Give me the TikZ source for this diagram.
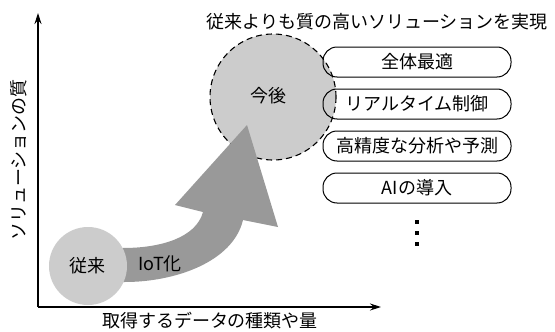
\documentclass[tikz,border=0pt]{standalone}
\usepackage{fontspec}
\setmainfont{Noto Sans CJK JP}
\usetikzlibrary{arrows.meta}
\definecolor{lightg}{HTML}{CCCCCC}
\definecolor{darkg}{HTML}{999999}
\tikzset{
  axis/.style={line width=1.2pt,-{Stealth[length=11pt,width=7pt]}},
  lbl/.style={font=\fontsize{18}{20}\selectfont,inner sep=0pt},
  pill/.style={draw,line width=1pt,rounded corners=14pt,minimum width=188pt,minimum height=30pt,inner sep=0pt,font=\fontsize{18}{20}\selectfont},
  dotsq/.style={fill=black,minimum size=3.2pt,inner sep=0pt},
}
\begin{document}
\begin{tikzpicture}[x=1pt,y=-1pt]
\useasboundingbox (0,0) rectangle (555,332);
% axes
\coordinate (o) at (38,307);
\coordinate (ytop) at (38,13);
\coordinate (xend) at (381,307);
\draw[axis] (o) -- (ytop);
\draw[axis] (o) -- (xend);
\node[lbl,rotate=90] (ylab) at (19,160) {ソリューションの質};
\node[lbl] (xlab) at (210,321) {取得するデータの種類や量};
\node[lbl] (title) at (377,22) {従来よりも質の高いソリューションを実現};
% big future circle
\node[circle,fill=lightg,draw,dashed,dash pattern=on 6pt off 4pt,line width=1.1pt,minimum size=126pt,inner sep=0pt] (future) at (273,97) {};
\node[lbl] (futtxt) at (268,96) {今後};
% arrow
\fill[darkg] (110,282) -- (125,282) .. controls (175,282) and (233,262) .. (243,220) -- (278,227) -- (247,125) -- (175,205) -- (203,212) .. controls (196,238) and (160,248) .. (123,248) -- (110,248) -- cycle;
% small circle
\node[circle,fill=lightg,minimum size=78pt,inner sep=0pt] (past) at (88,266) {};
\node[lbl] (pasttxt) at (87,266) {従来};
\node[lbl] (iot) at (160,264) {IoT化};
% pills
\node[pill] (p1) at (417,62) {全体最適};
\node[pill] (p2) at (417,104) {リアルタイム制御};
\node[pill] (p3) at (417,146) {高精度な分析や予測};
\node[pill] (p4) at (417,188) {AIの導入};
\node[dotsq] (d1) at (417,222) {};
\node[dotsq] (d2) at (417,233) {};
\node[dotsq] (d3) at (417,244) {};
\end{tikzpicture}
\end{document}
